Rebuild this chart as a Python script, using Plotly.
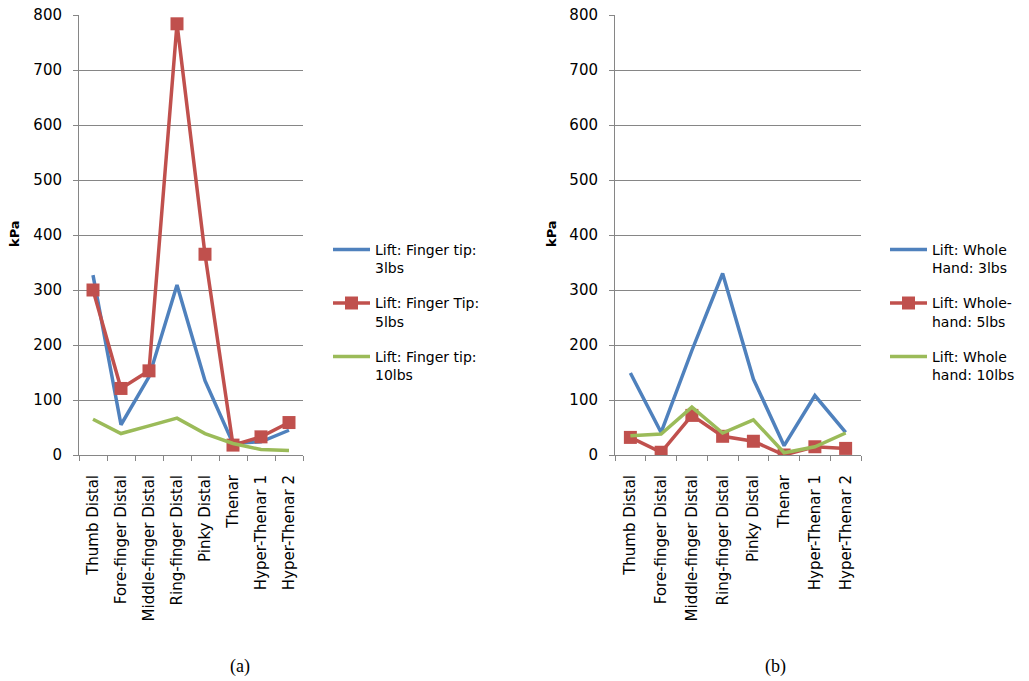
import plotly.graph_objects as go

categories = ["Thumb Distal", "Fore-finger Distal", "Middle-finger Distal", "Ring-finger Distal",
              "Pinky Distal", "Thenar", "Hyper-Thenar 1", "Hyper-Thenar 2"]

# (a) Finger tip lifts
a_3lbs = [327, 55, 142, 309, 135, 21, 24, 45]
a_5lbs = [300, 121, 153, 784, 365, 18, 33, 59]
a_10lbs = [65, 39, 53, 67, 39, 21, 10, 8]

# (b) Whole hand lifts
b_3lbs = [149, 41, 190, 330, 138, 17, 108, 41]
b_5lbs = [32, 5, 72, 34, 25, 0, 15, 12]
b_10lbs = [35, 38, 87, 40, 64, 4, 15, 40]

names_a = ["Lift: Finger tip:<br>3lbs", "Lift: Finger Tip:<br>5lbs", "Lift: Finger tip:<br>10lbs"]
names_b = ["Lift: Whole<br>Hand: 3lbs", "Lift: Whole-<br>hand: 5lbs", "Lift: Whole<br>hand: 10lbs"]

BLUE, RED, GREEN = "#4F81BD", "#C0504D", "#9BBB59"
FONT = "DejaVu Sans, sans-serif"
SERIF = "Liberation Serif, Times New Roman, serif"

# the page body margin is removed after plotting, so the figure fills the window
W, H = 1029, 681


def X(px):
    return px / W


def Y(py):
    return 1 - py / H


fig = go.Figure()


def add_set(vals, names, xa, ya, leg, grp):
    styles = [(BLUE, False), (RED, True), (GREEN, False)]
    for i, (v, n) in enumerate(zip(vals, names)):
        c, mk = styles[i]
        fig.add_trace(go.Scatter(
            x=categories, y=v, name=n, xaxis=xa, yaxis=ya, legend=leg,
            legendgroup=f"{grp}{i}",
            mode="lines+markers" if mk else "lines",
            line=dict(color=c, width=3.5),
            marker=dict(symbol="square", size=13, color=c),
        ))


add_set([a_3lbs, a_5lbs, a_10lbs], names_a, "x", "y", "legend", "a")
add_set([b_3lbs, b_5lbs, b_10lbs], names_b, "x2", "y2", "legend2", "b")

ydom = [Y(455), Y(15)]

xcommon = dict(type="category", range=[-0.5, 7.5], showgrid=False, showline=True,
               linecolor="#868686", linewidth=1, ticks="outside", tickson="boundaries",
               ticklen=5, tickcolor="#868686", tickangle=-90, automargin=False,
               ticklabelstandoff=13, ticklabeloverflow="allow",
               tickfont=dict(family=FONT, size=15, color="#000"))
ycommon = dict(range=[0, 800], dtick=100, showgrid=True, gridcolor="#868686", gridwidth=1,
               showline=True, linecolor="#868686", linewidth=1, ticks="outside", ticklen=5,
               tickcolor="#868686", zeroline=False, automargin=False, ticklabelstandoff=8,
               ticklabeloverflow="allow",
               tickfont=dict(family=FONT, size=15, color="#000"))

legcommon = dict(font=dict(family=FONT, size=14, color="#000"), bgcolor="rgba(0,0,0,0)",
                 tracegroupgap=14, xanchor="left", yanchor="top", itemwidth=37, valign="top")

ann = []
for txt, cx in (("(a)", 240), ("(b)", 775)):
    ann.append(dict(text=txt, x=X(cx), y=Y(666), xref="paper", yref="paper", showarrow=False,
                    xanchor="center", yanchor="middle",
                    font=dict(family=SERIF, size=18, color="#000")))
for cx in (14, 551):
    ann.append(dict(text="<b>kPa</b>", x=X(cx), y=Y(234), xref="paper", yref="paper",
                    showarrow=False, textangle=-90, xanchor="center", yanchor="middle",
                    font=dict(family=FONT, size=13, color="#000")))

fig.update_layout(
    width=W, height=H, margin=dict(l=0, r=0, t=0, b=0),
    plot_bgcolor="white", paper_bgcolor="white",
    xaxis=dict(domain=[X(79), X(303)], anchor="y", **xcommon),
    yaxis=dict(domain=ydom, anchor="x", **ycommon),
    xaxis2=dict(domain=[X(615), X(861)], anchor="y2", **xcommon),
    yaxis2=dict(domain=ydom, anchor="x2", **ycommon),
    legend=dict(x=X(328), y=Y(234), **legcommon),
    legend2=dict(x=X(885), y=Y(234), **legcommon),
    annotations=ann,
)

fig.write_html("out.html", config={"displayModeBar": False},
               post_script="document.body.style.margin='0px';document.body.style.overflow='hidden';")
